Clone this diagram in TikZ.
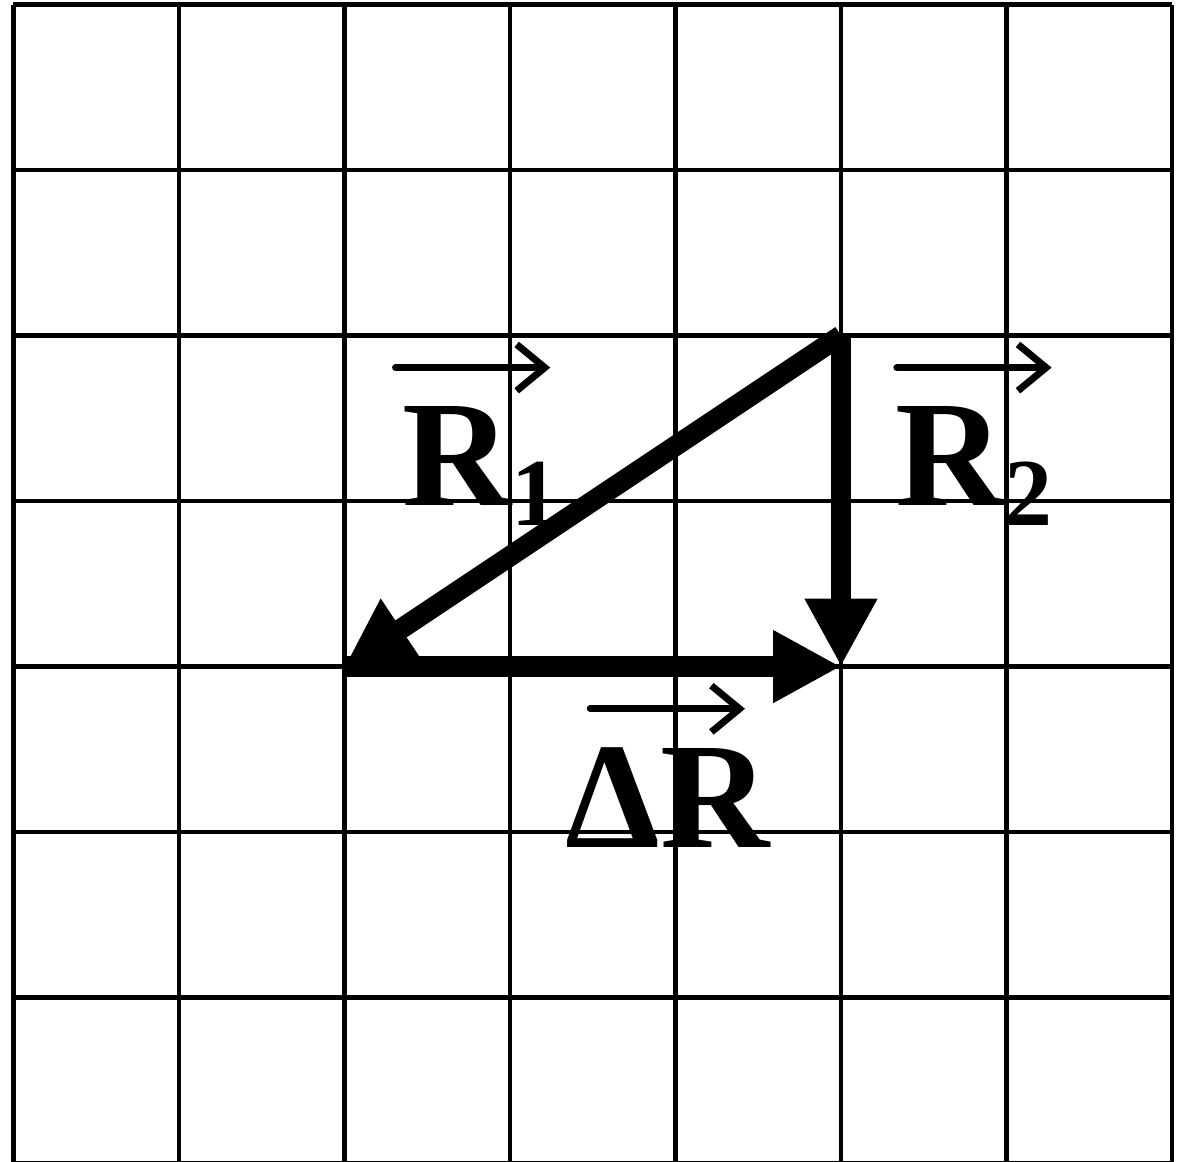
\documentclass[tikz,border=0pt]{standalone}
\usepackage{fontspec}
\setmainfont{Liberation Serif}
\usepackage{tikz}
\usetikzlibrary{arrows.meta}

\begin{document}
\begin{tikzpicture}[>=latex]
			\tikzstyle{gridline}=[line width=1.5pt]
			\tikzstyle{vector}=[line width=7pt,-{Triangle[length=0.82cm,width=0.82cm]}]
			\tikzstyle{vlabel}=[inner sep=0pt,anchor=base west,font=\bfseries\fontsize{52}{60}\selectfont]

			\newcommand{\VecArrow}{%
				\tikz [line width=2.4pt,line cap=round] {\useasboundingbox (0,-0.03) rectangle (1.87,0.03); \draw [-{Straight Barb[length=0.34cm,width=0.56cm]}] (0,0) -- (1.87,0);}%
			}
			\newcommand{\Sub}[1]{\raisebox{-7pt}{\fontsize{33}{33}\selectfont #1}}

			\useasboundingbox (-0.163,0.024) rectangle (14.145,14.055);
			\draw [gridline, step=2] (0,0) grid (14,14);

			\coordinate (P1) at (10,10);
			\coordinate (P2) at (4,6);
			\coordinate (P3) at (10,6);

			\draw [vector] (P1) -- (P2);
			\draw [vector] (P1) -- (P3);
			\draw [vector] (P2) -- (P3);

			\node (R1) [vlabel, label={[inner sep=0pt, label distance=0.42cm, xshift=-0.1cm]above:{\VecArrow}}] at (4.695,7.952) {R\Sub{1}};
			\node (R2) [vlabel, label={[inner sep=0pt, label distance=0.42cm]above:{\VecArrow}}] at (10.653,7.952) {R\Sub{2}};
			\node (dR) [vlabel, label={[inner sep=0pt, label distance=0.42cm]above:{\VecArrow}}] at (6.665,3.819) {ΔR};
		\end{tikzpicture}
\end{document}
